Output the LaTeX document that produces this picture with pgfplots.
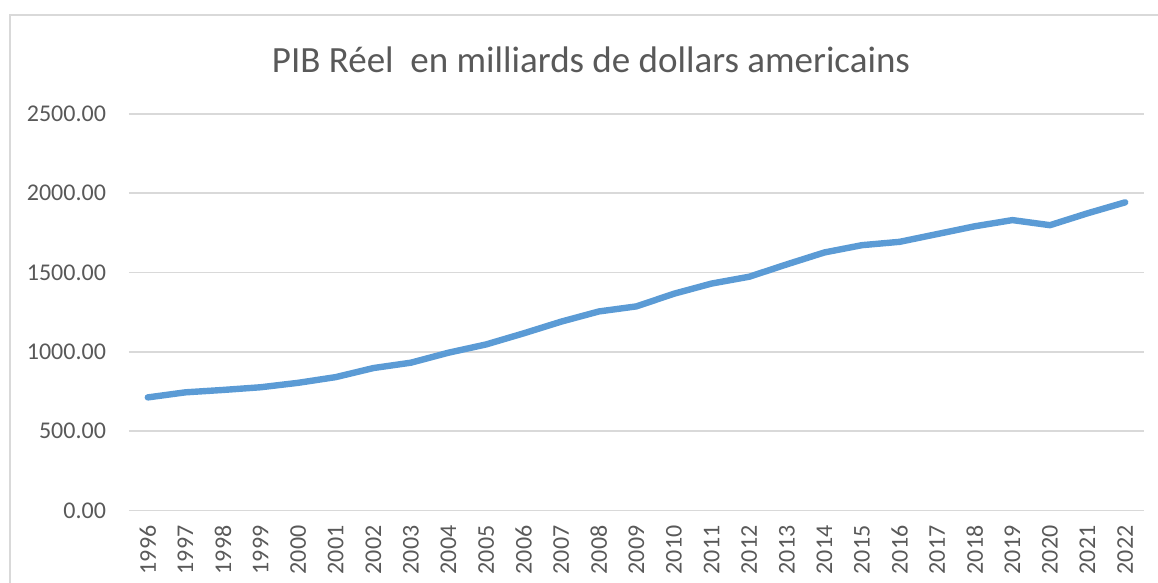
\documentclass[border=0pt]{standalone}
\usepackage{pgfplots}
\pgfplotsset{compat=1.18}
\usepackage{fontspec}
\setmainfont{Carlito}
\definecolor{linecol}{HTML}{5B9BD5}
\definecolor{gridcol}{HTML}{D9D9D9}
\definecolor{textcol}{HTML}{595959}
\begin{document}
\begin{tikzpicture}[x=0.5pt,y=0.5pt]
\useasboundingbox (0,0) rectangle (1158,583);
% chart frame (right and bottom edges are cut off in the reference)
\draw[gridcol, line width=0.8pt] (10,0) -- (10,568) -- (1158,568);
\node[textcol, font=\fontsize{18.5}{22}\selectfont] at (591,523)
  {PIB Réel\ \ en milliards de dollars americains};
\begin{axis}[
    at={(64.5pt,36.25pt)}, anchor=south west,
    scale only axis,
    width=507.5pt, height=198.25pt,
    xmin=1995.5, xmax=2022.5,
    ymin=0, ymax=2500,
    xtick={1996,...,2022},
    ytick={0,500,...,2500},
    ymajorgrids=true,
    grid style={gridcol, line width=0.9pt},
    axis line style={draw=none},
    major tick length=0pt,
    tick label style={textcol, font=\fontsize{12}{14}\selectfont},
    /pgf/number format/assume math mode=true,
    xticklabel shift=4pt,
    yticklabel shift=8pt,
    xticklabel style={rotate=90, anchor=east, /pgf/number format/1000 sep={}},
    yticklabel style={/pgf/number format/.cd, fixed, fixed zerofill, precision=2, 1000 sep={}},
]
\addplot[color=linecol, line width=3.2pt, line join=round, line cap=round, mark=none]
coordinates {
    (1996, 713) (1997, 745) (1998, 760) (1999, 777) (2000, 805)
    (2001, 841) (2002, 898) (2003, 932) (2004, 995) (2005, 1047)
    (2006, 1117) (2007, 1191) (2008, 1255) (2009, 1287) (2010, 1367)
    (2011, 1431) (2012, 1474) (2013, 1552) (2014, 1627) (2015, 1673)
    (2016, 1694) (2017, 1743) (2018, 1792) (2019, 1831) (2020, 1799)
    (2021, 1874) (2022, 1943)
};
\end{axis}
\end{tikzpicture}
\end{document}
